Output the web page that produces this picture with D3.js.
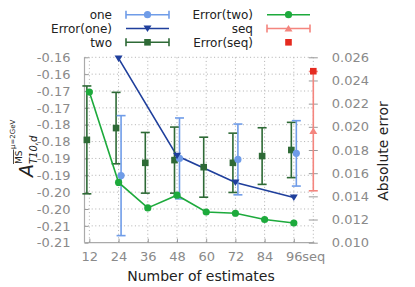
<!DOCTYPE html>
<html>
<head>
<meta charset="utf-8">
<script src="https://cdn.jsdelivr.net/npm/d3@7"></script>
<style>
  body { margin: 0; background: #fff; }
  text { font-family: "DejaVu Sans", sans-serif; }
</style>
</head>
<body>
<div class="chart"></div>
<script>
// data
var estimates = [12, 24, 36, 48, 60, 72, 84, 96];
var twoMean = [-0.1795, -0.1760, -0.1863, -0.1855, -0.1876, -0.1863, -0.1843, -0.1825];
var twoErr = [0.0160, 0.0106, 0.0090, 0.0098, 0.0089, 0.0088, 0.0084, 0.0082];
var errorTwo = [0.0230, 0.0152, 0.0130, 0.0141, 0.01265, 0.01254, 0.0120, 0.0117];

var oneEstimates = [24, 48, 72, 96];
var oneMean = [-0.1901, -0.1850, -0.1853, -0.1835];
var oneErr = [0.0178, 0.0120, 0.0105, 0.0097];
var errorOne = [0.0259, 0.0175, 0.0152, 0.0139];

var seqMean = [-0.1769];
var seqErr = [0.0177];
var errorSeq = [0.0248];

var xTicks = [12, 24, 36, 48, 60, 72, 84, 96, "seq"];
var leftTicks = [-0.21, -0.205, -0.20, -0.195, -0.19, -0.185, -0.18, -0.175, -0.17, -0.165, -0.16, -0.155];
var leftLabels = ["-0.21", "-0.21", "-0.20", "-0.20", "-0.19", "-0.19", "-0.18", "-0.18", "-0.17", "-0.17", "-0.16", "-0.16"];
var rightTicks = [0.010, 0.012, 0.014, 0.016, 0.018, 0.020, 0.022, 0.024, 0.026];

var colOne = "#6f9ce8", colErrOne = "#1f3f9c", colTwo = "#2e6a36",
    colErrTwo = "#1daa3c", colSeq = "#f4857e", colErrSeq = "#e52a1f";

var FONT = "DejaVu Sans";
var width = 415, height = 287;
var svg = d3.select(".chart").append("svg")
    .attr("width", width).attr("height", height);

var pos = function(d) { return d === "seq" ? 104 : d; };
var x = d3.scaleLinear().domain([10, 104]).range([84.5, 313.3]);
var yL = d3.scaleLinear().domain([-0.21, -0.155]).range([242.7, 57.3]);
var yR = d3.scaleLinear().domain([0.010, 0.026]).range([242.7, 57.3]);

// grid
var grid = svg.append("g").attr("stroke", "#b0b0b0").attr("stroke-width", 1)
    .attr("stroke-dasharray", "1,2.6");
grid.selectAll(".h").data(leftTicks.slice(1)).enter().append("line")
    .attr("x1", x(10)).attr("x2", x(104))
    .attr("y1", function(d) { return yL(d); }).attr("y2", function(d) { return yL(d); });
grid.selectAll(".v").data(xTicks).enter().append("line")
    .attr("x1", function(d) { return x(pos(d)); }).attr("x2", function(d) { return x(pos(d)); })
    .attr("y1", yL(-0.155)).attr("y2", yL(-0.21));

// axes
var axL = svg.append("g").attr("transform", "translate(" + x(10) + ",0)")
    .call(d3.axisLeft(yL).tickValues(leftTicks)
        .tickFormat(function(d, i) { return leftLabels[i]; })
        .tickSize(-4).tickPadding(14));
var axB = svg.append("g").attr("transform", "translate(0," + yL(-0.21) + ")")
    .call(d3.axisBottom(x).tickValues(xTicks.map(pos))
        .tickFormat(function(d) { return d === 104 ? "seq" : d; })
        .tickSize(-4).tickPadding(9));
var axR = svg.append("g").attr("transform", "translate(" + x(104) + ",0)")
    .call(d3.axisRight(yR).tickValues(rightTicks)
        .tickFormat(function(d) { return d.toFixed(3); })
        .tickSize(4).tickPadding(14.5));
axR.selectAll(".tick line").attr("x1", -4.5).attr("x2", 4.5);
axR.select(".domain").remove();

[axL, axB, axR].forEach(function(a) {
    a.attr("font-family", FONT);
    a.select(".domain").attr("stroke", "#aaa").attr("stroke-width", 1.2);
    a.selectAll(".tick line").attr("stroke", "#999");
    a.selectAll(".tick text").attr("fill", "#8a8a8a").style("font-size", "13px");
});
axL.select(".domain").attr("d", "M0," + yL(-0.155) + "V" + yL(-0.21));
axB.select(".domain").attr("d", "M" + x(10) + ",0H" + (x(104) + 1));
axB.selectAll(".tick").filter(function(d) { return d === 104; }).select("line").remove();

// helpers
function errbar(g, cx, ylo, yhi, col) {
    g.append("line").attr("x1", cx).attr("x2", cx).attr("y1", ylo).attr("y2", yhi)
        .attr("stroke", col).attr("stroke-width", 1.6);
    [ylo, yhi].forEach(function(yy) {
        g.append("line").attr("x1", cx - 4.5).attr("x2", cx + 4.5).attr("y1", yy).attr("y2", yy)
            .attr("stroke", col).attr("stroke-width", 1.6);
    });
}
function marker(g, type, cx, cy, col) {
    if (type === "circle") {
        g.append("circle").attr("cx", cx).attr("cy", cy).attr("r", 3.6).attr("fill", col);
    } else if (type === "square") {
        g.append("rect").attr("x", cx - 3.3).attr("y", cy - 3.3).attr("width", 6.6).attr("height", 6.6).attr("fill", col);
    } else if (type === "down") {
        g.append("path").attr("d", "M" + (cx - 4) + "," + (cy - 3) + "L" + (cx + 4) + "," + (cy - 3) + "L" + cx + "," + (cy + 3.5) + "Z").attr("fill", col);
    } else if (type === "up") {
        g.append("path").attr("d", "M" + (cx - 4) + "," + (cy + 3) + "L" + (cx + 4) + "," + (cy + 3) + "L" + cx + "," + (cy - 3.5) + "Z").attr("fill", col);
    }
}

var plot = svg.append("g");

// Error(one) line (right axis)
var lineR = d3.line().x(function(d) { return x(d[0]); }).y(function(d) { return yR(d[1]); });
plot.append("path").datum(d3.zip(oneEstimates, errorOne)).attr("d", lineR)
    .attr("fill", "none").attr("stroke", colErrOne).attr("stroke-width", 1.6);

// two
estimates.forEach(function(e, i) {
    var cx = x(e) - 2.5;
    errbar(plot, cx, yL(twoMean[i] - twoErr[i]), yL(twoMean[i] + twoErr[i]), colTwo);
    marker(plot, "square", cx, yL(twoMean[i]), colTwo);
});
// one
oneEstimates.forEach(function(e, i) {
    var cx = x(e) + 2.5;
    errbar(plot, cx, yL(oneMean[i] - oneErr[i]), yL(oneMean[i] + oneErr[i]), colOne);
    marker(plot, "circle", cx, yL(oneMean[i]), colOne);
});
oneEstimates.forEach(function(e, i) { marker(plot, "down", x(e), yR(errorOne[i]), colErrOne); });

// Error(two)
plot.append("path").datum(d3.zip(estimates, errorTwo)).attr("d", lineR)
    .attr("fill", "none").attr("stroke", colErrTwo).attr("stroke-width", 1.6);
estimates.forEach(function(e, i) { marker(plot, "circle", x(e), yR(errorTwo[i]), colErrTwo); });

// seq
seqMean.forEach(function(m, i) {
    errbar(plot, x(104), yL(m - seqErr[i]), yL(m + seqErr[i]), colSeq);
    marker(plot, "up", x(104), yL(m), colSeq);
    marker(plot, "square", x(104), yR(errorSeq[i]), colErrSeq);
});

// legend
var legend = [
    {label: "one", col: colOne, bar: true, line: true, m: "circle", cx: 112, lx: 126, row: 0},
    {label: "Error(one)", col: colErrOne, bar: false, line: true, m: "down", cx: 112, lx: 126, row: 1},
    {label: "two", col: colTwo, bar: true, line: true, m: "square", cx: 112, lx: 126, row: 2},
    {label: "Error(two)", col: colErrTwo, bar: false, line: true, m: "circle", cx: 253, lx: 267, row: 0},
    {label: "seq", col: colSeq, bar: true, line: true, m: "up", cx: 253, lx: 267, row: 1},
    {label: "Error(seq)", col: colErrSeq, bar: false, line: false, m: "square", cx: 253, lx: 267, row: 2}
];
var lg = svg.append("g");
legend.forEach(function(d) {
    var ly = 14.7 + d.row * 13.8;
    lg.append("text").attr("x", d.cx).attr("y", ly + 4.3).attr("text-anchor", "end")
        .attr("fill", "#222").style("font-size", "12px").text(d.label);
    if (d.line) {
        lg.append("line").attr("x1", d.lx).attr("x2", d.lx + 43).attr("y1", ly).attr("y2", ly)
            .attr("stroke", d.col).attr("stroke-width", 1.6);
    }
    if (d.bar) {
        [d.lx, d.lx + 43].forEach(function(xx) {
            lg.append("line").attr("x1", xx).attr("x2", xx).attr("y1", ly - 4).attr("y2", ly + 4)
                .attr("stroke", d.col).attr("stroke-width", 1.6);
        });
    }
    marker(lg, d.m, d.lx + 21.5, ly, d.col);
});

// axis titles
svg.append("text").attr("x", 201).attr("y", 281).attr("text-anchor", "middle")
    .attr("fill", "#222").style("font-size", "14px").text("Number of estimates");
svg.append("text").attr("transform", "translate(388,151) rotate(-90)")
    .attr("text-anchor", "middle").attr("fill", "#222").style("font-size", "14px")
    .text("Absolute error");

var yl = svg.append("g").attr("transform", "rotate(-90)").attr("fill", "#222");
yl.append("text").attr("x", -177).attr("y", 33).style("font-size", "19px")
    .style("font-style", "italic").text("A");
yl.append("text").attr("x", -164).attr("y", 37).style("font-size", "10px")
    .style("font-style", "italic").text("T10,d");
yl.append("text").attr("x", -164).attr("y", 22).style("font-size", "9px").text("MS");
yl.append("line").attr("x1", -164).attr("x2", -149.5).attr("y1", 13.5).attr("y2", 13.5)
    .attr("stroke", "#222").attr("stroke-width", 0.8);
yl.append("text").attr("x", -149).attr("y", 15).style("font-size", "7px").text("\u03bc=2GeV");
</script>
</body>
</html>
